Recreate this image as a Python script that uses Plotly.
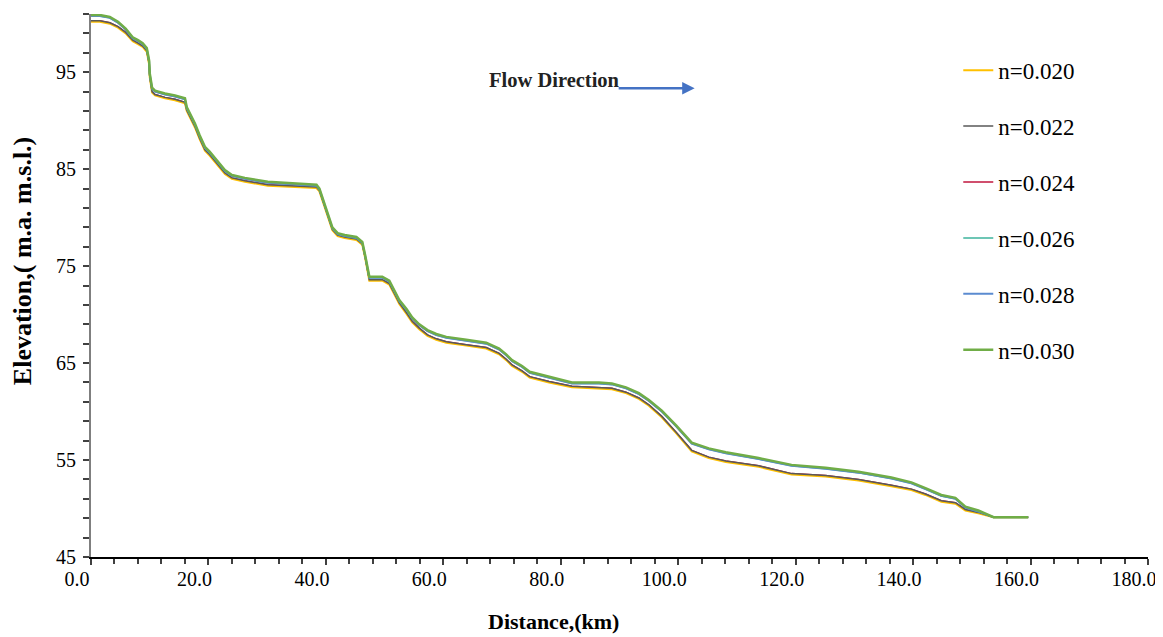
import plotly.graph_objects as go

# ---------------- data ----------------
dist_km = [0.0, 1.5, 3.2, 4.6, 5.9, 6.6, 7.1, 8.0, 8.8, 9.5,
           9.9, 10.0, 10.4, 10.9, 12.6, 14.3, 15.5, 16.0, 16.3, 16.8,
           17.7, 18.5, 19.4, 20.2, 21.4, 22.8, 24.0, 26.2, 30.1, 33.0,
           35.5, 38.4, 38.9, 39.4, 40.3, 41.1, 42.0, 43.2, 45.2, 46.2,
           46.7, 47.1, 47.4, 48.6, 49.6, 50.8, 51.7, 52.5, 53.7, 54.7,
           55.9, 57.3, 58.8, 60.5, 63.9, 67.3, 69.5, 70.7, 71.7, 73.4,
           74.7, 78.0, 81.9, 86.5, 88.7, 91.1, 93.3, 95.0, 97.2, 99.6,
           102.3, 105.2, 108.1, 113.7, 119.3, 125.1, 130.7, 136.3, 139.7, 142.1,
           144.8, 147.2, 148.9, 151.1, 153.7, 159.6]

elev_n020 = [100.2, 100.2, 100.0, 99.6, 99.0, 98.5, 98.2, 97.9, 97.6, 97.1,
             95.8, 94.5, 92.9, 92.6, 92.3, 92.1, 91.9, 91.8, 91.0, 90.4,
             89.3, 88.1, 86.9, 86.4, 85.5, 84.5, 84.0, 83.7, 83.3, 83.2,
             83.15, 83.05, 82.7, 81.8, 80.3, 78.7, 78.1, 77.9, 77.7, 77.2,
             75.8, 74.2, 73.5, 73.5, 73.5, 73.1, 72.1, 71.1, 70.1, 69.2,
             68.5, 67.8, 67.4, 67.1, 66.8, 66.5, 65.9, 65.3, 64.7, 64.1,
             63.5, 63.0, 62.5, 62.4, 62.3, 61.9, 61.3, 60.6, 59.4, 57.8,
             55.9, 55.2, 54.8, 54.3, 53.5, 53.3, 52.9, 52.3, 51.9, 51.4,
             50.7, 50.5, 49.8, 49.5, 49.1, 49.1]

elev_n022 = [100.3, 100.3, 100.1, 99.7, 99.1, 98.6, 98.3, 98.0, 97.7, 97.2,
             95.9, 94.6, 93.0, 92.7, 92.4, 92.2, 92.0, 91.9, 91.1, 90.5,
             89.4, 88.2, 87.0, 86.5, 85.6, 84.6, 84.1, 83.8, 83.4, 83.3,
             83.25, 83.15, 82.8, 81.9, 80.4, 78.8, 78.2, 78.0, 77.8, 77.3,
             75.9, 74.3, 73.6, 73.6, 73.6, 73.2, 72.2, 71.2, 70.2, 69.3,
             68.6, 67.9, 67.5, 67.2, 66.9, 66.6, 66.0, 65.4, 64.8, 64.2,
             63.6, 63.1, 62.6, 62.5, 62.4, 62.0, 61.4, 60.7, 59.5, 57.9,
             56.0, 55.3, 54.9, 54.4, 53.6, 53.4, 53.0, 52.4, 52.0, 51.5,
             50.8, 50.6, 49.9, 49.6, 49.1, 49.1]

elev_n024 = [100.3, 100.3, 100.1, 99.7, 99.1, 98.6, 98.3, 98.0, 97.7, 97.2,
             95.9, 94.6, 93.0, 92.7, 92.4, 92.2, 92.0, 91.9, 91.1, 90.5,
             89.4, 88.2, 87.0, 86.5, 85.6, 84.6, 84.1, 83.8, 83.4, 83.3,
             83.25, 83.15, 82.8, 81.9, 80.4, 78.8, 78.2, 78.0, 77.8, 77.3,
             75.9, 74.3, 73.6, 73.6, 73.6, 73.2, 72.2, 71.2, 70.2, 69.3,
             68.6, 67.9, 67.5, 67.2, 66.9, 66.6, 66.0, 65.4, 64.8, 64.2,
             63.6, 63.1, 62.6, 62.5, 62.4, 62.0, 61.4, 60.7, 59.5, 57.9,
             56.0, 55.3, 54.9, 54.4, 53.6, 53.4, 53.0, 52.4, 52.0, 51.5,
             50.8, 50.6, 49.9, 49.6, 49.1, 49.1]

elev_n026 = [100.8, 100.8, 100.6, 100.1, 99.4, 98.9, 98.5, 98.2, 97.9, 97.4,
             96.1, 94.8, 93.3, 93.0, 92.7, 92.5, 92.3, 92.2, 91.3, 90.7,
             89.6, 88.4, 87.2, 86.7, 85.8, 84.8, 84.3, 84.0, 83.6, 83.5,
             83.4, 83.3, 82.9, 82.0, 80.5, 78.9, 78.3, 78.1, 77.9, 77.4,
             76.0, 74.5, 73.8, 73.8, 73.8, 73.4, 72.4, 71.4, 70.5, 69.6,
             68.9, 68.3, 67.9, 67.6, 67.3, 67.0, 66.4, 65.8, 65.2, 64.6,
             64.0, 63.5, 62.9, 62.9, 62.8, 62.4, 61.8, 61.1, 60.0, 58.5,
             56.7, 56.1, 55.7, 55.1, 54.4, 54.1, 53.7, 53.1, 52.6, 52.0,
             51.3, 51.0, 50.1, 49.7, 49.1, 49.1]

elev_n028 = [100.8, 100.8, 100.6, 100.1, 99.4, 98.9, 98.5, 98.2, 97.9, 97.4,
             96.1, 94.8, 93.3, 93.0, 92.7, 92.5, 92.3, 92.2, 91.3, 90.7,
             89.6, 88.4, 87.2, 86.7, 85.8, 84.8, 84.3, 84.0, 83.6, 83.5,
             83.4, 83.3, 82.9, 82.0, 80.5, 78.9, 78.3, 78.1, 77.9, 77.4,
             76.0, 74.5, 73.8, 73.8, 73.8, 73.4, 72.4, 71.4, 70.5, 69.6,
             68.9, 68.3, 67.9, 67.6, 67.3, 67.0, 66.4, 65.8, 65.2, 64.6,
             64.0, 63.5, 62.9, 62.9, 62.8, 62.4, 61.8, 61.1, 60.0, 58.5,
             56.7, 56.1, 55.7, 55.1, 54.4, 54.1, 53.7, 53.1, 52.6, 52.0,
             51.3, 51.0, 50.1, 49.7, 49.1, 49.1]

elev_n030 = [100.9, 100.9, 100.7, 100.2, 99.5, 99.0, 98.6, 98.3, 98.0, 97.5,
             96.2, 94.9, 93.4, 93.1, 92.8, 92.6, 92.4, 92.3, 91.4, 90.8,
             89.7, 88.5, 87.3, 86.8, 85.9, 84.9, 84.4, 84.1, 83.7, 83.6,
             83.5, 83.4, 83.0, 82.1, 80.6, 79.0, 78.4, 78.2, 78.0, 77.5,
             76.1, 74.6, 73.9, 73.9, 73.9, 73.5, 72.5, 71.5, 70.6, 69.7,
             69.0, 68.4, 68.0, 67.7, 67.4, 67.1, 66.5, 65.9, 65.3, 64.7,
             64.1, 63.6, 63.0, 63.0, 62.9, 62.5, 61.9, 61.2, 60.1, 58.6,
             56.8, 56.2, 55.8, 55.2, 54.5, 54.2, 53.8, 53.2, 52.7, 52.1,
             51.4, 51.1, 50.2, 49.8, 49.1, 49.1]

series_names = ["n=0.020", "n=0.022", "n=0.024", "n=0.026", "n=0.028", "n=0.030"]
series_values = [elev_n020, elev_n022, elev_n024, elev_n026, elev_n028, elev_n030]

x_tick_values = [0, 20, 40, 60, 80, 100, 120, 140, 160, 180]
y_tick_values = [45, 55, 65, 75, 85, 95]

# ---------------- styling ----------------
colors = ["#FFC000", "#595959", "#C0143C", "#3CB39C", "#5B8BD0", "#70AD47"]
widths = [2, 1.5, 1.5, 1.5, 2, 2.5]
draw_order = [2, 0, 1, 3, 4, 5]   # red drawn underneath

FONT = "Liberation Serif, Times New Roman, serif"

fig = go.Figure()
for i in draw_order:
    fig.add_trace(go.Scatter(
        x=dist_km, y=series_values[i], mode="lines",
        name=series_names[i], legendgroup=series_names[i], legendrank=i + 1,
        line=dict(color=colors[i], width=widths[i]),
    ))

fig.update_layout(
    width=1155, height=629,
    margin=dict(l=83, r=13, t=6, b=80),
    paper_bgcolor="white", plot_bgcolor="white",
    font=dict(family=FONT, size=20, color="black"),
    showlegend=True,
    legend=dict(
        x=0.8205, y=0.936, xanchor="left", yanchor="top",
        font=dict(family=FONT, size=23, color="black"),
        tracegroupgap=23, itemwidth=30,
        bgcolor="rgba(0,0,0,0)",
    ),
    xaxis=dict(
        range=[0, 180], tickvals=x_tick_values, tickformat=".1f",
        showgrid=False, zeroline=False,
        showline=True, linecolor="black", linewidth=2,
        ticks="outside", ticklen=6, tickwidth=2, tickcolor="#404040",
        minor=dict(dtick=4, tick0=0, ticks="outside", ticklen=5, tickwidth=2, tickcolor="#404040"),
        tickfont=dict(family=FONT, size=20, color="black"),
        ticklabelshift=-14, ticklabelstandoff=-3,
    ),
    yaxis=dict(
        range=[45, 101], tickvals=y_tick_values,
        showgrid=False, zeroline=False,
        showline=True, linecolor="#7F7F7F", linewidth=2,
        ticks="outside", ticklen=6, tickwidth=2, tickcolor="#404040",
        minor=dict(dtick=2, tick0=45, ticks="outside", ticklen=6, tickwidth=2, tickcolor="#404040"),
        tickfont=dict(family=FONT, size=20, color="black"),
        ticklabelstandoff=3,
    ),
)

# axis titles placed as in the reference
fig.add_annotation(
    x=-0.0652, y=0.545, xref="paper", yref="paper", text="<b>Elevation,( m.a. m.s.l.)</b>",
    textangle=-90, showarrow=False, xanchor="center", yanchor="middle",
    font=dict(family=FONT, size=26, color="black"),
)
fig.add_annotation(
    x=0.438, y=-0.1197, xref="paper", yref="paper", text="<b>Distance,(km)</b>",
    showarrow=False, xanchor="center", yanchor="middle",
    font=dict(family=FONT, size=22, color="black"),
)

# Flow direction label and arrow
fig.add_annotation(
    x=67.5, y=94.2, xref="x", yref="y", text="<b>Flow Direction</b>",
    showarrow=False, xanchor="left", yanchor="middle",
    font=dict(family=FONT, size=20.5, color="#222222"),
)
fig.add_annotation(
    x=102.8, y=93.35, ax=89.6, ay=93.35, xref="x", yref="y", axref="x", ayref="y",
    text="", showarrow=True, arrowhead=2, arrowsize=1, arrowwidth=2.5, arrowcolor="#4472C4",
)

fig.write_html("out.html")
